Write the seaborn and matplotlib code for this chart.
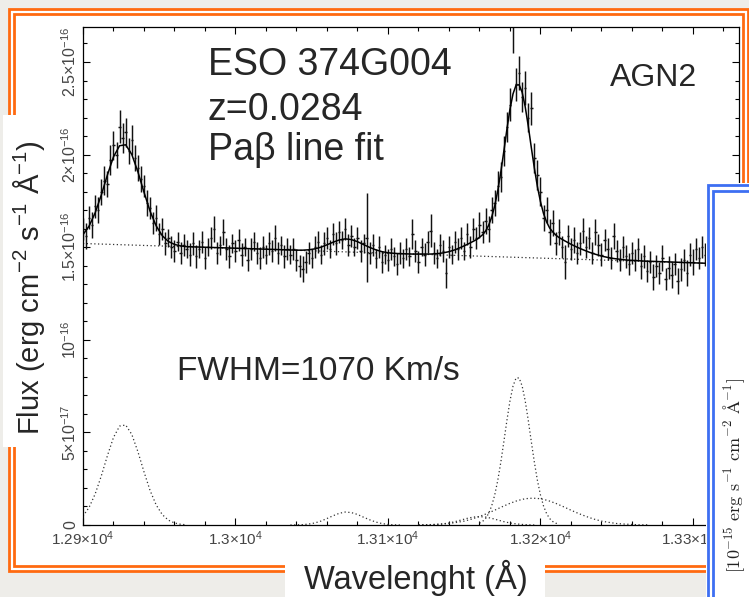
import numpy as np
import matplotlib
matplotlib.use("Agg")
import matplotlib.pyplot as plt
from matplotlib.patches import Rectangle
from matplotlib.transforms import Bbox
import seaborn as sns

# ---------------- data (flux in units of 1e-16 erg cm^-2 s^-1 A^-1) ----------------
data_wave = np.arange(12900, 13321, 2)
data_flux = (
    [1.60, 1.56, 1.66, 1.62, 1.72, 1.70, 1.80, 1.86, 1.84, 1.97, 2.05, 2.00, 2.15, 2.09, 2.12, 2.02, 2.08, 1.98,
     1.93, 1.87, 1.83, 1.74, 1.71, 1.63, 1.66, 1.57, 1.60, 1.52, 1.55, 1.50, 1.48, 1.53, 1.47, 1.51, 1.49, 1.46]
    + [1.52, 1.45, 1.49, 1.53, 1.44, 1.50, 1.55, 1.60, 1.47, 1.51, 1.58, 1.49, 1.45, 1.52, 1.48, 1.54, 1.46,
       1.50, 1.43, 1.49, 1.53, 1.47, 1.44, 1.50, 1.46, 1.52, 1.48, 1.55, 1.47, 1.51, 1.45, 1.49, 1.46]
    + [1.49, 1.43, 1.40, 1.38, 1.42, 1.47, 1.44, 1.50, 1.53, 1.46, 1.52, 1.55, 1.49, 1.57, 1.52, 1.58, 1.54,
       1.60, 1.51, 1.56, 1.50, 1.55, 1.48, 1.52, 1.55, 1.47, 1.51, 1.44, 1.50, 1.42, 1.46, 1.43, 1.49, 1.45,
       1.41, 1.47, 1.44]
    + [1.49, 1.45, 1.57, 1.48, 1.42, 1.50, 1.46, 1.53, 1.59, 1.47, 1.44, 1.51, 1.48, 1.36, 1.50, 1.46, 1.53,
       1.49, 1.55, 1.48]
    + [1.57, 1.50, 1.60, 1.55, 1.62, 1.58, 1.64, 1.60, 1.70, 1.74, 1.83, 1.88, 2.02, 2.15, 2.27, 2.95, 2.38,
       2.44, 2.31, 2.36, 2.20, 2.25, 1.98, 1.89, 1.80, 1.66, 1.70, 1.58, 1.63, 1.52, 1.58]
    + [1.50, 1.42, 1.56, 1.49, 1.54, 1.47, 1.52, 1.59, 1.50, 1.55, 1.47, 1.58, 1.51, 1.46, 1.54, 1.49, 1.44,
       1.56, 1.48, 1.43, 1.50, 1.45, 1.41, 1.47, 1.43, 1.49, 1.40, 1.45, 1.37, 1.42, 1.34, 1.40, 1.36, 1.44,
       1.33, 1.39, 1.35, 1.41, 1.32, 1.38, 1.43, 1.36, 1.46, 1.42, 1.49, 1.44, 1.50, 1.46, 1.42, 1.48, 1.44,
       1.47, 1.43, 1.46]
)
data_err = (
    [0.06, 0.07, 0.06, 0.07, 0.06, 0.07, 0.07, 0.08, 0.07, 0.08, 0.08, 0.07, 0.09, 0.08, 0.08, 0.07, 0.08, 0.07,
     0.07, 0.07, 0.06, 0.07, 0.06, 0.06, 0.07, 0.06, 0.06, 0.06, 0.05, 0.06, 0.06, 0.05, 0.06, 0.06, 0.05, 0.06]
    + [0.06, 0.06, 0.05, 0.06, 0.06, 0.05, 0.06, 0.07, 0.06, 0.05, 0.07, 0.06, 0.06, 0.05, 0.06, 0.06, 0.06,
       0.05, 0.06, 0.06, 0.05, 0.06, 0.06, 0.06, 0.05, 0.06, 0.06, 0.07, 0.06, 0.05, 0.06, 0.06, 0.05]
    + [0.06, 0.06, 0.06, 0.07, 0.06, 0.06, 0.05, 0.06, 0.06, 0.05, 0.06, 0.06, 0.05, 0.06, 0.06, 0.06, 0.05,
       0.06, 0.06, 0.06, 0.05, 0.06, 0.06, 0.05, 0.24, 0.06, 0.06, 0.05, 0.06, 0.06, 0.05, 0.06, 0.06, 0.05,
       0.06, 0.06, 0.05]
    + [0.06, 0.05, 0.08, 0.06, 0.06, 0.05, 0.06, 0.06, 0.09, 0.06, 0.05, 0.06, 0.06, 0.08, 0.06, 0.05, 0.06,
       0.06, 0.06, 0.05]
    + [0.06, 0.06, 0.06, 0.06, 0.07, 0.06, 0.07, 0.07, 0.07, 0.07, 0.08, 0.08, 0.08, 0.08, 0.09, 0.40, 0.09,
       0.09, 0.08, 0.09, 0.08, 0.09, 0.08, 0.08, 0.08, 0.07, 0.07, 0.07, 0.07, 0.06, 0.07]
    + [0.06, 0.09, 0.06, 0.06, 0.07, 0.06, 0.06, 0.07, 0.06, 0.06, 0.06, 0.07, 0.06, 0.06, 0.06, 0.06, 0.06,
       0.07, 0.06, 0.06, 0.06, 0.06, 0.06, 0.06, 0.06, 0.06, 0.07, 0.06, 0.06, 0.06, 0.07, 0.06, 0.06, 0.07,
       0.06, 0.06, 0.07, 0.06, 0.07, 0.06, 0.06, 0.07, 0.06, 0.07, 0.06, 0.06, 0.06, 0.06, 0.07, 0.06, 0.06,
       0.06, 0.06, 0.06]
)

# total fit (solid line)
fit_wave = np.r_[np.arange(12900, 12969, 4), np.arange(13040, 13157, 4), [13158],
                 np.arange(13160, 13213, 2), np.arange(13216, 13273, 4), [13330]]
fit_flux = ([1.568, 1.614, 1.686, 1.782, 1.890, 1.988, 2.048, 2.053, 2.001, 1.907, 1.797, 1.694, 1.615, 1.562,
             1.531, 1.515, 1.507, 1.503]
            + [1.484, 1.484, 1.486, 1.491, 1.500, 1.513, 1.527, 1.539, 1.545, 1.541, 1.530, 1.514, 1.499, 1.486,
               1.476, 1.470, 1.467, 1.465, 1.464, 1.463, 1.463, 1.463, 1.463, 1.465, 1.469, 1.476, 1.486, 1.500,
               1.515, 1.532]
            + [1.541]
            + [1.553, 1.567, 1.587, 1.618, 1.662, 1.723, 1.805, 1.906, 2.019, 2.137, 2.245, 2.328, 2.375, 2.377,
               2.336, 2.258, 2.154, 2.038, 1.927, 1.827, 1.746, 1.682, 1.637, 1.604, 1.583, 1.566, 1.553]
            + [1.534, 1.516, 1.500, 1.486, 1.473, 1.462, 1.452, 1.445, 1.439, 1.435, 1.431, 1.429, 1.427, 1.425,
               1.424]
            + [1.407])

# continuum (dotted)
cont_wave = [12900, 13330]
cont_flux = [1.520, 1.407]

# line components (dotted)
feA_wave = np.arange(12900, 12969, 4)
feA_flux = [0.048, 0.095, 0.168, 0.265, 0.374, 0.473, 0.534, 0.540, 0.489, 0.396, 0.287, 0.186, 0.108, 0.056,
            0.026, 0.011, 0.004, 0.001]
feB_wave = np.arange(13036, 13109, 4)
feB_flux = [0.000, 0.001, 0.002, 0.005, 0.011, 0.021, 0.035, 0.050, 0.063, 0.070, 0.067, 0.057, 0.042, 0.028,
            0.016, 0.008, 0.003, 0.001, 0.000]
wing_wave = np.arange(13120, 13197, 4)
wing_flux = [0.000, 0.001, 0.001, 0.003, 0.006, 0.011, 0.018, 0.027, 0.036, 0.043, 0.045, 0.043, 0.036, 0.027,
             0.018, 0.011, 0.006, 0.003, 0.001, 0.000]
pab_n_wave = np.arange(13160, 13213, 2)
pab_n_flux = [0.010, 0.019, 0.035, 0.062, 0.103, 0.162, 0.241, 0.339, 0.450, 0.565, 0.670, 0.750, 0.794, 0.794,
              0.750, 0.670, 0.565, 0.450, 0.339, 0.241, 0.162, 0.103, 0.062, 0.035, 0.019, 0.010, 0.005]
pab_b_wave = np.arange(13120, 13271, 5)
pab_b_flux = [0.001, 0.001, 0.003, 0.005, 0.008, 0.014, 0.021, 0.032, 0.046, 0.062, 0.080, 0.099, 0.117, 0.132,
              0.142, 0.145, 0.142, 0.132, 0.117, 0.099, 0.080, 0.062, 0.046, 0.032, 0.021, 0.014, 0.008, 0.005,
              0.003, 0.001, 0.001]

x_ticks = [12900, 13000, 13100, 13200, 13300]
x_ticklabels = ["1.29×10$^{4}$", "1.3×10$^{4}$", "1.31×10$^{4}$", "1.32×10$^{4}$", "1.33×10$^{4}$"]
y_ticks = [0, 0.5, 1.0, 1.5, 2.0, 2.5]
y_ticklabels = ["0", "5×10$^{-17}$", "10$^{-16}$", "1.5×10$^{-16}$", "2×10$^{-16}$", "2.5×10$^{-16}$"]

# ---------------- style ----------------
sns.set_theme(style="ticks")
plt.rcParams['font.family'] = ['Liberation Sans', 'DejaVu Sans']
plt.rcParams['mathtext.fontset'] = 'custom'
plt.rcParams['mathtext.rm'] = 'Liberation Sans'
plt.rcParams['mathtext.it'] = 'Liberation Sans:italic'
plt.rcParams['mathtext.bf'] = 'Liberation Sans:bold'
plt.rcParams['mathtext.sf'] = 'Liberation Sans'

W, H = 749, 597
fig = plt.figure(figsize=(W / 100, H / 100), dpi=100)
fig.patch.set_facecolor('#eeede9')


def prect(x0, y0, x1, y1, **kw):
    return Rectangle((x0 / W, 1 - y1 / H), (x1 - x0) / W, (y1 - y0) / H,
                     transform=fig.transFigure, **kw)


ORANGE = '#ff6a10'
BLUE = '#3d6ff2'
# slide frame
fig.add_artist(prect(8.7, 8.7, 748, 570.5, facecolor='white', edgecolor='none', zorder=-2))
fig.add_artist(prect(8.7, 8.7, 748, 570.5, facecolor='none', edgecolor=ORANGE, lw=2.0, zorder=1))
fig.add_artist(prect(14, 14, 743, 565.5, facecolor='none', edgecolor=ORANGE, lw=2.0, zorder=1))
# white label boxes
fig.add_artist(prect(3, 115, 60, 447, facecolor='white', edgecolor='none', zorder=2))
fig.add_artist(prect(285, 562, 545, 600, facecolor='white', edgecolor='none', zorder=2))

ax = fig.add_axes([83 / W, 1 - 525 / H, 656 / W, 498 / H])
ax.set_facecolor('white')

ax.errorbar(data_wave, data_flux, yerr=data_err, xerr=0.8, fmt='none', ecolor='#111111',
            elinewidth=1.05, capsize=0, zorder=2)
sns.lineplot(x=cont_wave, y=cont_flux, ax=ax, color='#333333', lw=0.9, ls=(0, (1, 2)), sort=False, zorder=1)
for wv, fl in [(feA_wave, feA_flux), (feB_wave, feB_flux), (wing_wave, wing_flux),
               (pab_n_wave, pab_n_flux), (pab_b_wave, pab_b_flux)]:
    sns.lineplot(x=wv, y=fl, ax=ax, color='#333333', lw=0.9, ls=(0, (1, 2)), sort=False, zorder=1)
sns.lineplot(x=fit_wave, y=fit_flux, ax=ax, color='black', lw=1.1, sort=False, zorder=3)

ax.set_xlim(12900, 13330.2)
ax.set_ylim(0, 2.689)
ax.set_xticks(x_ticks)
ax.set_xticklabels(x_ticklabels)
ax.set_xticks(np.arange(12900, 13331, 20), minor=True)
ax.set_yticks(y_ticks)
ax.set_yticklabels(y_ticklabels)
ax.set_yticks(np.arange(0, 2.69, 0.1), minor=True)
ax.set_xlabel('')
ax.set_ylabel('')
for s in ax.spines.values():
    s.set_color('black')
    s.set_linewidth(0.9)
ax.tick_params(which='both', direction='in', top=True, right=True, color='black', width=0.8,
               labelcolor='#444444')
ax.tick_params(which='major', length=5)
ax.tick_params(which='minor', length=3.2)
ax.tick_params(axis='x', labelsize=11, pad=3)
ax.tick_params(axis='y', labelsize=11.5, pad=3, labelrotation=90)
for lbl in ax.get_yticklabels():
    lbl.set_va('center')

# annotations
ax.text(0.1905, 0.9036, "ESO 374G004", transform=ax.transAxes, fontsize=27, va='baseline', ha='left')
ax.text(0.1905, 0.8133, "z=0.0284", transform=ax.transAxes, fontsize=27, va='baseline', ha='left')
ax.text(0.1905, 0.7329, "Paβ line fit", transform=ax.transAxes, fontsize=27, va='baseline', ha='left')
ax.text(0.8034, 0.8815, "AGN2", transform=ax.transAxes, fontsize=23, va='baseline', ha='left')
ax.text(0.1433, 0.2912, "FWHM=1070 Km/s", transform=ax.transAxes, fontsize=24, va='baseline', ha='left')

# axis labels (slide text boxes)
fig.text(29 / W, 1 - 288 / H, "Flux (erg cm$^{-2}$ s$^{-1}$ Å$^{-1}$)", rotation=90,
         ha='center', va='center', fontsize=21, zorder=3)
fig.text(416 / W, 1 - 578 / H, "Wavelenght (Å)", ha='center', va='center', fontsize=23.5, zorder=3)

# overlapping panel at right (blue frame)
fig.add_artist(prect(706, 183, 770, 620, facecolor='white', edgecolor='none', zorder=6))
fig.add_artist(prect(708, 185.3, 770, 620, facecolor='none', edgecolor=BLUE, lw=2.0, zorder=7))
fig.add_artist(prect(713.3, 190.7, 770, 620, facecolor='none', edgecolor=BLUE, lw=2.0, zorder=7))
fig.text(734 / W, 1 - 475 / H, r"$[10^{-15}\ \mathrm{erg\ s^{-1}\ cm^{-2}\ \AA^{-1}}]$", rotation=90,
         ha='center', va='center', fontsize=13, zorder=8, math_fontfamily='cm', color='#222222')

# the last wavelength tick label is partly hidden under the overlapping panel
clip = Bbox.from_extents(0, 0, 706, H)
for lbl in ax.get_xticklabels():
    lbl.set_clip_box(clip)
    lbl.set_clip_on(True)

fig.savefig('out.png', dpi=100, facecolor=fig.get_facecolor())
